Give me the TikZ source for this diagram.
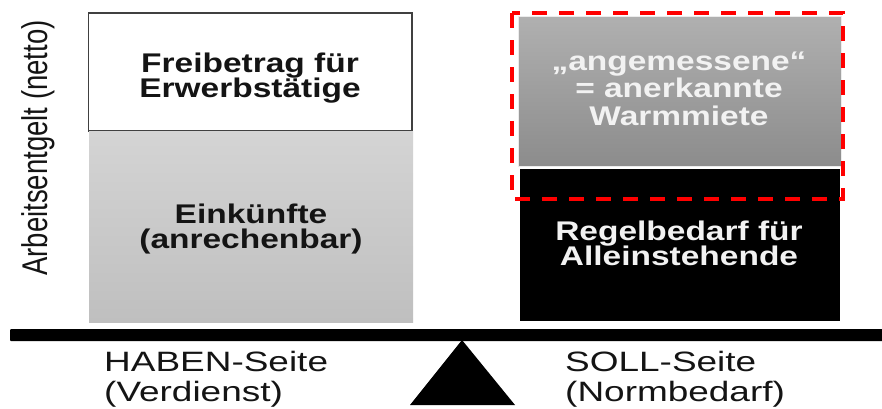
\documentclass[tikz,border=0pt]{standalone}
\usepackage{fontspec}
\setmainfont{Liberation Sans}
\usepackage{graphicx}
\definecolor{lgtop}{RGB}{212,212,212}
\definecolor{lgbot}{RGB}{191,191,191}
\definecolor{dgtop}{RGB}{176,176,176}
\definecolor{dgbot}{RGB}{140,140,140}
\definecolor{txtlight}{RGB}{242,242,242}
\definecolor{txtdark}{RGB}{20,20,20}
\newcommand\boxlines[3]{\scalebox{1.24}[1]{\parbox[t]{300pt}{\centering\fontsize{27}{#1}\selectfont\bfseries\lineskiplimit=-100pt\relax #3}}}
\newcommand\sidelines[1]{\scalebox{1.32}[1]{\parbox[t]{200pt}{\raggedright\fontsize{28}{30}\selectfont\lineskiplimit=-100pt\relax #1}}}
\begin{document}
\begin{tikzpicture}[x=1pt,y=-1pt,
  boxtxt/.style={inner sep=0pt, anchor=base},
  sidetxt/.style={inner sep=0pt, anchor=base west, text=txtdark},
  dashframe/.style={draw=red, line width=4pt, dash pattern=on 15pt off 12pt}]
\useasboundingbox (0,0) rectangle (882,408);
\fill[white] (0,0) rectangle (882,408);
% left column
\draw[draw=black!75, line width=1.5pt, fill=white] (88.5,13) rectangle (412,131);
\shade[top color=lgtop, bottom color=lgbot] (89,131.8) rectangle (413,322);
% right column
\shade[top color=dgtop, bottom color=dgbot] (518,16) rectangle (841,166);
\draw[white!85!gray, line width=0.8pt] (518,16) rectangle (841,166);
\fill[black] (520,169) rectangle (840,321);
\draw[dashframe] (512,13) rectangle (843,199);
% beam and fulcrum
\fill[black, rounded corners=1pt] (10,329) rectangle (890,341);
\fill[black] (462,340) -- (515,405) -- (410,405) -- cycle;
% texts
\node[boxtxt, text=txtdark] (freibetrag) at (250,72) {\boxlines{25}{}{Freibetrag für\\Erwerbstätige}};
\node[boxtxt, text=txtdark] (einkuenfte) at (251,223) {\boxlines{25.5}{}{Einkünfte\\(anrechenbar)}};
\node[boxtxt, text=txtlight] (miete) at (679,70) {\boxlines{27.8}{}{„angemessene“\\= anerkannte\\Warmmiete}};
\node[boxtxt, text=txtlight] (regel) at (679,240) {\boxlines{25}{}{Regelbedarf für\\Alleinstehende}};
\node[sidetxt] (haben) at (104,371) {\sidelines{HABEN-Seite\\(Verdienst)}};
\node[sidetxt] (soll) at (565,371) {\sidelines{SOLL-Seite\\(Normbedarf)}};
\node[rotate=90, inner sep=0pt, text=txtdark] (achse) at (38.5,148) {\scalebox{1}[1.3]{\fontsize{27.5}{30}\selectfont Arbeitsentgelt (netto)}};
\end{tikzpicture}
\end{document}
